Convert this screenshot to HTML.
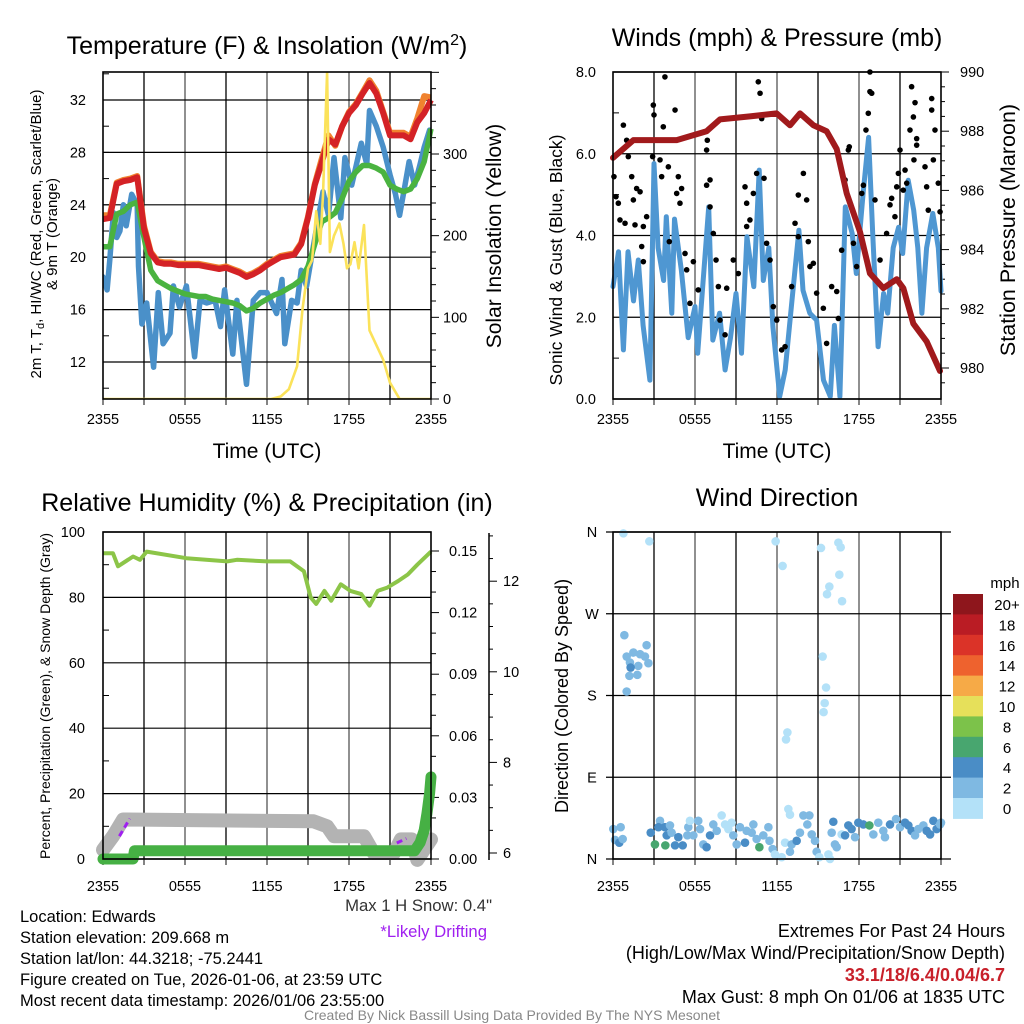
<!DOCTYPE html>
<html><head><meta charset="utf-8"><style>
html,body{margin:0;padding:0;background:#fff;}
svg{display:block;font-family:"Liberation Sans",sans-serif;}
</style></head><body>
<svg id="fig" width="1024" height="1024" viewBox="0 0 1024 1024" xmlns="http://www.w3.org/2000/svg">
<rect x="0" y="0" width="1024" height="1024" fill="#fff"/>
<g id="layer"></g>
<text x="267" y="54" font-size="25" text-anchor="middle">Temperature (F) &amp; Insolation (W/m<tspan dy="-9" font-size="16">2</tspan><tspan dy="9">)</tspan></text>
<text x="777" y="46" font-size="25" text-anchor="middle">Winds (mph) &amp; Pressure (mb)</text>
<text x="267" y="511" font-size="25" text-anchor="middle">Relative Humidity (%) &amp; Precipitation (in)</text>
<text x="777" y="506" font-size="25" text-anchor="middle">Wind Direction</text>
<text x="267" y="458" font-size="21" text-anchor="middle">Time (UTC)</text>
<text x="777" y="458" font-size="21" text-anchor="middle">Time (UTC)</text>
<text transform="translate(41,234) rotate(-90)" font-size="15" text-anchor="middle">2m T, T<tspan dy="3" font-size="11">d</tspan><tspan dy="-3">, HI/WC (Red, Green, Scarlet/Blue)</tspan></text>
<text transform="translate(57,234) rotate(-90)" font-size="15" text-anchor="middle">&amp; 9m T (Orange)</text>
<text transform="translate(501,236) rotate(-90)" font-size="21" text-anchor="middle">Solar Insolation (Yellow)</text>
<text transform="translate(562,260) rotate(-90)" font-size="17.5" text-anchor="middle">Sonic Wind &amp; Gust (Blue, Black)</text>
<text transform="translate(1015,230) rotate(-90)" font-size="21.5" text-anchor="middle">Station Pressure (Maroon)</text>
<text transform="translate(50,696) rotate(-90)" font-size="14" text-anchor="middle">Percent, Precipitation (Green), &amp; Snow Depth (Gray)</text>
<text transform="translate(568,696) rotate(-90)" font-size="18" text-anchor="middle">Direction (Colored By Speed)</text>
<text x="1005" y="588" font-size="15" text-anchor="middle">mph</text>
<text x="492" y="911" font-size="16.7" text-anchor="end" fill="#333">Max 1 H Snow: 0.4"</text>
<text x="487" y="937" font-size="16.7" text-anchor="end" fill="#a020f0">*Likely Drifting</text>
<g font-size="16.5">
<text x="20" y="922">Location: Edwards</text>
<text x="20" y="943">Station elevation: 209.668 m</text>
<text x="20" y="964">Station lat/lon: 44.3218; -75.2441</text>
<text x="20" y="985">Figure created on Tue, 2026-01-06, at 23:59 UTC</text>
<text x="20" y="1006">Most recent data timestamp: 2026/01/06 23:55:00</text>
</g>
<g font-size="18" text-anchor="end">
<text x="1005" y="937">Extremes For Past 24 Hours</text>
<text x="1005" y="959">(High/Low/Max Wind/Precipitation/Snow Depth)</text>
<text x="1005" y="981" fill="#c8202a" font-weight="bold">33.1/18/6.4/0.04/6.7</text>
<text x="1005" y="1003">Max Gust: 8 mph On 01/06 at 1835 UTC</text>
</g>
<text x="512" y="1020" font-size="14" text-anchor="middle" fill="#888">Created By Nick Bassill Using Data Provided By The NYS Mesonet</text>
</svg>
<script>
// ---------- DATA ----------
const xTickLabels = ["2355","0555","1155","1755","2355"];
const tempHours = [0,0.5,1,1.5,2,2.5,3,3.5,4,4.5,5,5.5,6,6.5,7,7.5,8,8.5,9,9.5,10,10.5,11,11.5,12,12.5,13,13.5,14,14.5,15,15.5,16,16.5,17,17.5,18,18.5,19,19.5,20,20.5,21,21.5,22,22.5,23,23.5,24];
const tempRed = [22.9,23,25.6,25.8,25.9,26.1,22.2,20.3,19.6,19.5,19.5,19.4,19.4,19.4,19.4,19.3,19.2,19.1,19.2,19.0,18.8,18.5,18.7,19.0,19.4,19.7,20,20.1,20.2,21,23,25.5,27.2,29,28.6,30,31,31.6,32.5,33.3,32.5,31,29.3,29.3,29.3,29,30.3,31,32];
const tempOrange = [23.2,23.2,25.7,25.9,26,26.2,22.4,20.4,19.7,19.6,19.6,19.5,19.5,19.5,19.5,19.4,19.3,19.2,19.3,19.1,18.9,18.6,18.8,19.1,19.5,19.8,20.1,20.2,20.3,21.1,23.1,25.6,27.5,29.3,28.5,30,31.1,31.7,32.6,33.5,32.7,31.1,29.5,29.5,29.5,29.2,30.6,32.3,32.2];
const dewGreen = [20.8,20.8,23.3,23.5,24,24.2,21.5,19,18.2,17.9,17.6,17.4,17.2,17.1,17,17,16.8,16.7,16.6,16.5,16.3,15.9,16.1,16.5,16.8,17.1,17.3,17.6,17.9,18.3,19.3,21,22.7,23,23.4,24.5,25.8,26.5,27,27,26.8,26.5,25.5,25.2,25,25.2,26,27.3,29.8];
const wcHours = [0,0.3,0.5,0.76,1.0,1.24,1.49,1.7,2.1,2.5,2.6,2.85,3.2,3.7,4.05,4.4,4.9,5.15,5.6,6.1,6.7,7.1,7.58,8.2,8.6,8.9,9.5,9.8,10.5,11.0,11.5,12.0,12.7,13.1,13.3,13.8,14.2,14.5,14.9,15.4,16.1,16.5,16.9,17.4,17.7,18.2,18.9,19.3,19.5,20.0,20.5,21.0,21.4,21.7,22.1,22.4,22.8,23.2,23.5,23.9];
const wcBlue = [18.5,17.5,19.8,23.4,21.5,22,24,22.4,24.8,24,19.3,14.9,16.5,11.6,17.3,13.4,14.2,17.8,16.2,17.8,12.4,16.7,16.5,16.7,14.7,17.5,12.6,16.7,10.3,16.7,17.3,17.3,15.7,18.3,13.4,16.7,16.5,19,17.8,20.9,25,23.2,27.6,23,27.6,25.5,28.7,27.1,31.2,30,28.4,26.3,24.8,23.2,25.5,27.3,25.5,27.1,28.4,29.7];
const solarHours = [0,12.3,13,13.6,14.2,14.6,15.0,15.3,15.6,15.9,16.1,16.4,16.6,16.9,17.3,17.6,17.85,18.1,18.4,18.7,19.1,19.5,20.5,21,21.7,24];
const solarWm2 = [0,0,3,12,40,110,160,170,230,190,250,400,180,200,215,190,160,165,192,160,213,84,48,20,0,0];
const yTempTicks = [12,16,20,24,28,32];
const ySolarTicks = [0,100,200,300];

const windHours = [0,0.4,0.76,1.1,1.5,1.85,2.2,2.7,3.0,3.3,3.7,3.9,4.3,4.5,5.0,5.5,6.0,6.2,7.0,7.3,7.8,8.2,8.6,9.0,9.4,9.8,10.3,10.7,11.0,11.4,11.7,12.2,12.6,13.1,13.6,13.9,14.4,14.9,15.4,15.9,16.2,16.6,17.0,17.5,17.8,18.3,18.7,19.0,19.4,19.8,20.1,20.5,20.9,21.2,21.6,22.0,22.3,22.6,22.95,23.4,23.8,24];
const windMph = [2.75,3.6,1.2,3.6,2.4,3.4,1.8,0.46,5.76,3.7,2.9,4.46,2.1,4.4,3.16,1.5,2.26,1.12,4.7,1.44,2.1,0.71,1.5,2.58,1.12,3.97,2.75,5.6,2.9,3.7,1.77,0.06,0.71,2.42,4.13,2.66,2.1,1.93,0.46,0.06,1.8,0.06,4.7,4.05,3.07,5.03,6.4,4.05,1.28,2.58,2.1,3.7,4.2,3.56,5.35,4.62,3.7,2.1,3.7,4.54,3.7,2.64];
const gustHours = [0.07,0.22,0.39,0.51,0.88,0.76,1.0,1.12,1.37,1.49,1.73,1.98,1.61,2.22,2.46,2.1,2.22,2.95,3.0,2.9,3.44,3.56,3.68,3.8,4.05,4.12,4.54,4.66,4.78,5.02,4.9,5.27,5.39,5.63,5.88,6.24,6.85,6.9,7.1,6.85,7.1,7.34,7.54,7.71,7.83,8.2,8.32,8.8,9.17,9.66,9.78,9.78,10.02,10.27,10.51,10.63,10.76,10.88,11.05,11.24,11.49,11.73,11.98,12.34,12.59,13.07,13.32,13.56,13.56,13.93,14.17,14.29,14.41,14.66,14.9,15.39,15.63,16.0,16.37,16.49,16.73,16.98,17.22,17.29,17.59,17.83,18.2,18.32,18.51,18.68,18.8,18.8,18.93,19.17,19.54,20.02,20.27,20.39,20.63,20.76,20.88,21.0,21.24,21.37,21.49,21.73,21.85,21.98,22.1,22.02,22.22,22.22,22.83,22.95,23.07,23.32,23.32,23.44,23.56,23.8,23.93];
const gustMph = [5.44,4.95,4.79,4.38,4.30,6.70,6.33,5.93,5.44,4.87,5.15,5.07,4.26,4.22,4.46,3.73,3.36,7.19,6.95,5.93,5.85,5.44,6.66,7.88,5.68,3.85,7.07,5.03,5.44,5.15,4.79,3.56,3.16,2.34,3.36,2.67,6.09,6.33,5.36,5.23,4.7,4.05,3.4,2.75,1.93,1.57,2.71,3.4,3.07,5.19,4.79,4.22,4.38,5.03,5.52,7.76,7.48,6.86,5.4,3.81,3.4,2.26,1.93,1.2,1.28,2.75,4.3,4.99,3.97,5.52,4.87,3.85,3.24,3.32,2.59,2.22,1.36,2.75,2.63,1.97,3.64,5.36,6.09,6.17,3.81,3.24,5.03,5.23,6.58,6.99,7.52,8.0,7.48,4.87,3.4,4.05,4.75,4.91,4.46,5.19,5.52,6.09,5.11,5.6,5.28,6.58,7.64,6.9,7.25,5.85,6.37,6.21,5.68,5.19,4.62,7.35,7.07,5.85,6.58,5.28,4.58];
const presHours = [0,1.49,4.66,6.85,7.83,10.02,11.97,12.95,13.68,14.66,15.63,16.37,17.1,18.07,18.8,19.78,20.76,21.24,21.97,22.95,23.93];
const presMb = [987.1,987.7,987.7,988.0,988.4,988.5,988.6,988.2,988.6,988.2,988.0,987.4,985.9,984.6,983.2,982.7,983.0,982.7,981.5,980.9,979.9];
const yWindTicks = ["0.0","2.0","4.0","6.0","8.0"];
const yPresTicks = [980,982,984,986,988,990];

const rhHours = [0,0.73,1.1,2.2,2.7,3.2,6.1,9.1,9.8,12,13.7,14.7,15.2,15.6,16.2,16.7,17.4,18.1,18.9,19.5,20.1,20.8,21.6,22.3,23,24];
const rhPct = [93.5,93.5,89.5,92.5,91.5,94,92,91,91.5,91,91,88,80,78,82,79,84,82,81,77.5,82,83,85,87,90,94];
const precipHours = [0,2.2,2.3,22.8,23.2,23.5,23.7,23.9,24];
const precipIn = [0,0,0.004,0.004,0.008,0.014,0.022,0.032,0.04];
const snowHours = [0,0.73,1.47,15.4,16.4,16.9,19.1,19.8,21.3,21.8,22.6,23,24];
const snowIn = [6.07,6.37,6.74,6.7,6.59,6.37,6.37,6.0,6.0,6.3,6.3,5.85,6.3];
const driftHours = [1.2,1.96,21.5,22.2];
const driftIn = [6.37,6.76,6.22,6.32];
const yRhTicks = [0,20,40,60,80,100];
const yPrecipTicks = ["0.00","0.03","0.06","0.09","0.12","0.15"];
const ySnowTicks = [6,8,10,12];

const dirHours = [0.76,2.66,11.9,12.41,15.22,16.49,16.66,16.56,15.83,15.66,16.76,0.83,2.46,1.0,1.49,1.98,2.34,1.24,1.85,2.59,1.29,1.2,1.78,1.0,15.34,15.59,15.49,15.41,12.76,12.66,12.83,12.95,
0.02,0.56,0.15,0.46,0.71,2.76,3.07,3.44,3.32,3.8,3.83,3.93,4.17,4.29,4.54,4.78,5.1,5.44,5.51,5.63,5.88,6.24,6.37,6.61,6.85,7.1,7.34,7.59,7.95,8.2,8.44,8.68,8.8,9.05,9.29,9.66,9.78,10.15,10.27,10.51,10.71,11.0,11.37,11.45,11.68,11.85,12.34,12.59,12.95,13.07,13.44,13.68,13.93,14.22,14.37,14.54,14.78,14.9,15.1,15.76,15.88,16.0,16.12,16.24,16.37,16.73,16.98,17.22,17.46,17.71,17.95,18.32,18.76,19.05,19.41,19.78,19.9,20.27,20.71,21.0,21.37,21.61,21.85,22.1,22.34,22.71,22.95,23.2,23.44,23.68,23.93,24];
const dirDeg = [358.5,349.7,349.7,322.6,342.4,348.3,343.1,313,299.9,291.5,283.8,246.4,235.4,222.9,227.3,225.5,222.9,216.3,212.6,215.6,210.8,201.6,202.7,184.4,222.9,188.8,171.6,161.7,139.3,131.6,55,48.8,
33,35,21,18,22,29,16,42,35,35,15,26,37,29,15,24,15,26,35,42,26,42,33,16,13,26,38,31,48,38,33,40,26,16,35,18,31,29,38,22,13,26,35,20,11,5,2,18,8,16,20,29,48,38,48,27,20,8,2,5,0,29,41,16,13,27,26,37,33,24,40,38,37,27,40,31,24,38,44,35,40,37,31,26,33,37,31,27,42,33,38,40];
const dirSpeed = [0,0,0,0,0,0,0,0,0,0,0,2,2,2,2,2,2,2,2,2,4,2,2,2,0,0,0,0,0,0,0,0,
2,2,2,4,2,4,6,2,4,4,6,4,2,2,4,4,4,2,2,0,2,2,2,2,4,4,2,2,0,0,0,0,2,2,2,4,2,2,2,2,6,2,2,2,2,0,0,0,2,2,4,2,2,2,2,2,2,2,0,0,0,2,4,2,2,0,4,4,4,2,4,4,6,2,2,2,2,4,2,2,4,4,4,2,2,2,4,4,4,4,2,2];
const dirTickLabels = ["N","E","S","W","N"];
const speedBins = ["0","2","4","6","8","10","12","14","16","18","20+"];
const speedColors = ["#b3e1f8","#7fb9e2","#4a8dc6","#48a66f","#7cc24a","#e6e05a","#f6aa47","#ee622e","#db3328","#ba1c24","#8e161c"];

// ---------- HELPERS ----------
const NS = "http://www.w3.org/2000/svg";
const layer = document.getElementById("layer");
function mk(tag, attrs, parent){
  const e = document.createElementNS(NS, tag);
  for (const k in attrs) e.setAttribute(k, attrs[k]);
  (parent||layer).appendChild(e);
  return e;
}
function txt(x,y,s,size,anchor,parent,fill){
  const t = mk("text",{x:x,y:y,"font-size":size,"text-anchor":anchor,fill:fill||"#000"},parent);
  t.textContent = s; return t;
}
function pathFrom(hs, vs, fx, fy){
  let d = "";
  for (let i=0;i<hs.length;i++) d += (i?"L":"M") + fx(hs[i]).toFixed(1) + "," + fy(vs[i]).toFixed(1);
  return d;
}
function panelFrame(x0,y0,x1,y1,name){
  const g = mk("g",{});
  
  
  for (let k=1;k<8;k++){
    const x = x0 + k*(x1-x0)/8;
    mk("line",{x1:x,y1:y0,x2:x,y2:y1,stroke:k%2?"#000":"#555","stroke-width":1.3},g);
  }
  for (let k=0;k<=8;k++){
    const x = x0 + k*(x1-x0)/8;
    mk("line",{x1:x,y1:y1,x2:x,y2:y1+6,stroke:"#333","stroke-width":1.2},g);
  }
  return g;
}
function border(x0,y0,x1,y1){
  const r = mk("rect",{x:x0,y:y0,width:x1-x0,height:y1-y0,fill:"none",stroke:"#000","stroke-width":1.6});
  
  
}
function xLabels(x0,x1,y,name){
  const g = mk("g",{});
  
  
  for (let i=0;i<xTickLabels.length;i++) txt(x0 + i*(x1-x0)/4, y, xTickLabels[i], 14.5, "middle", g);
}

// ---------- PANEL 1: temperature ----------
const p1x = h => 103 + h*328/24;
const p1y = t => 100 + (32-t)*13.1;
const p1s = w => 399 - w*0.8167;
const g1 = panelFrame(103,72,431,399,"temperature-panel");
for (const t of yTempTicks){ mk("line",{x1:103,y1:p1y(t),x2:431,y2:p1y(t),stroke:"#000","stroke-width":1.2},g1); }
for (let t=10;t<=34;t+=2){ const y=p1y(t); if(y>72&&y<399) mk("line",{x1:103,y1:y,x2:109,y2:y,stroke:"#000"},g1); }
for (let w=0;w<=400;w+=20){ mk("line",{x1:431,y1:p1s(w),x2:w%100?436:439,y2:p1s(w),stroke:"#000"},g1); }
const l1 = mk("g",{});  
for (const t of yTempTicks) txt(86, p1y(t)+5, String(t), 14.5, "end", l1);
const r1 = mk("g",{});  
for (const w of ySolarTicks) txt(443, p1s(w)+5, String(w), 14.5, "start", r1);
xLabels(103,431,424,"temp-x-tick-labels");
const clip1 = mk("clipPath",{id:"c1"}); mk("rect",{x:103,y:72,width:328,height:327},clip1);
const wc = mk("path",{d:pathFrom(wcHours,wcBlue,p1x,p1y),fill:"none",stroke:"#4a90c9","stroke-width":5.5,"stroke-linejoin":"round","stroke-linecap":"round","clip-path":"url(#c1)"});
 
const dg = mk("path",{d:pathFrom(tempHours,dewGreen,p1x,p1y),fill:"none",stroke:"#4ab340","stroke-width":5.5,"stroke-linejoin":"round"});
 
const ol = mk("path",{d:pathFrom(tempHours,tempOrange,p1x,p1y),fill:"none",stroke:"#f0822e","stroke-width":6,"stroke-linejoin":"round"});
 
const rl = mk("path",{d:pathFrom(tempHours,tempRed,p1x,p1y),fill:"none",stroke:"#d42226","stroke-width":6,"stroke-linejoin":"round"});
 
const sl = mk("path",{d:pathFrom(solarHours,solarWm2,p1x,p1s),fill:"none",stroke:"#fbe25a","stroke-width":2.6,"stroke-linejoin":"round","clip-path":"url(#c1)"});
 
border(103,72,431,399);

// ---------- PANEL 2: winds ----------
const p2x = h => 613 + h*328/24;
const p2y = m => 399 - m*40.875;
const p2p = p => 72 + (990-p)*29.6;
const g2 = panelFrame(613,72,941,399,"winds-panel");
for (let i=0;i<yWindTicks.length;i++){ const y=p2y(i*2); mk("line",{x1:613,y1:y,x2:941,y2:y,stroke:"#000","stroke-width":1.2},g2); }
for (let m=1;m<8;m+=2){ mk("line",{x1:613,y1:p2y(m),x2:619,y2:p2y(m),stroke:"#000"},g2); }
for (let p=979.5;p<=990;p+=0.5){ const y=p2p(p); if(y<=399) mk("line",{x1:941,y1:y,x2:(p%2===0)?949:945,y2:y,stroke:"#000"},g2); }
const l2 = mk("g",{});  
for (let i=0;i<yWindTicks.length;i++) txt(596, p2y(i*2)+5, yWindTicks[i], 14.5, "end", l2);
const r2 = mk("g",{});  
for (const p of yPresTicks) txt(960, p2p(p)+5, String(p), 14.5, "start", r2);
xLabels(613,941,424,"wind-x-tick-labels");
const wl = mk("path",{d:pathFrom(windHours,windMph,p2x,p2y),fill:"none",stroke:"#4f97d2","stroke-width":5,"stroke-linejoin":"round","stroke-linecap":"round"});
 
const gg = mk("g",{});  
for (let i=0;i<gustHours.length;i++){
  const c = mk("circle",{cx:p2x(gustHours[i]),cy:p2y(gustMph[i]),r:2.8,fill:"#000"},gg);
  
  
}
const pl = mk("path",{d:pathFrom(presHours,presMb,p2x,p2p),fill:"none",stroke:"#a11a1c","stroke-width":6,"stroke-linejoin":"round","stroke-linecap":"round"});
 
border(613,72,941,399);

// ---------- PANEL 3: humidity ----------
const p3y = v => 859 - v*3.27;
const p3p = v => 859 - v*308/0.15;
const p3s = s => 853 - (s-6)*45.3;
const g3 = panelFrame(103,532,431,859,"humidity-panel");
for (const v of yRhTicks){ mk("line",{x1:103,y1:p3y(v),x2:431,y2:p3y(v),stroke:"#000","stroke-width":1.2},g3); }
for (let v=10;v<100;v+=20){ mk("line",{x1:103,y1:p3y(v),x2:109,y2:p3y(v),stroke:"#000"},g3); }
for (let k=0;k<=15;k++){ const y=p3p(k*0.01); mk("line",{x1:431,y1:y,x2:k%3?436:439,y2:y,stroke:"#000"},g3); }
mk("line",{x1:489,y1:533,x2:489,y2:860,stroke:"#000","stroke-width":1.5},g3);
for (let s=5.9;s<=13.1;s+=0.5){ const sv=Math.round(s*2)/2; const y=p3s(sv); if(y>533&&y<860) mk("line",{x1:489,y1:y,x2:sv%2===0?497:493,y2:y,stroke:"#000"},g3); }
const l3 = mk("g",{});  
for (const v of yRhTicks) txt(85, p3y(v)+5, String(v), 14.5, "end", l3);
const r3 = mk("g",{});  
for (let i=0;i<yPrecipTicks.length;i++) txt(449, p3p(i*0.03)+5, yPrecipTicks[i], 14.5, "start", r3);
const s3 = mk("g",{});  
for (const s of ySnowTicks) txt(503, p3s(s)+5, String(s), 14.5, "start", s3);
xLabels(103,431,891,"humidity-x-tick-labels");
const sn = mk("path",{d:pathFrom(snowHours,snowIn,p1x,p3s),fill:"none",stroke:"#b3b3b3","stroke-width":14,"stroke-linejoin":"round","stroke-linecap":"round"});
 
for (let i=0;i<driftHours.length;i+=2){
  const dl = mk("path",{d:pathFrom(driftHours.slice(i,i+2),driftIn.slice(i,i+2),p1x,p3s),fill:"none",stroke:"#a020f0","stroke-width":3,"stroke-dasharray":"6,4"});
   
}
const pr = mk("path",{d:pathFrom(precipHours,precipIn,p1x,p3p),fill:"none",stroke:"#46b044","stroke-width":11,"stroke-linejoin":"round","stroke-linecap":"round"});
 
const rh = mk("path",{d:pathFrom(rhHours,rhPct,p1x,p3y),fill:"none",stroke:"#8cc548","stroke-width":4,"stroke-linejoin":"round"});
 
border(103,532,431,859);

// ---------- PANEL 4: wind direction ----------
const p4y = d => 859 - d*327/360;
const g4 = panelFrame(613,532,941,859,"direction-panel");
for (let i=0;i<5;i++){ mk("line",{x1:606,y1:p4y(i*90),x2:951,y2:p4y(i*90),stroke:"#000","stroke-width":1.2},g4); }
const l4 = mk("g",{});  
for (let i=0;i<dirTickLabels.length;i++) txt(592, p4y(i*90)+5, dirTickLabels[i], 14.5, "middle", l4);
xLabels(613,941,891,"direction-x-tick-labels");
const dp = mk("g",{});  
for (let i=0;i<dirHours.length;i++){
  const c = mk("circle",{cx:p2x(dirHours[i]),cy:p4y(dirDeg[i]),r:4.3,fill:speedColors[dirSpeed[i]/2]},dp);
  
  
}
border(613,532,941,859);
const cb = mk("g",{});  
for (let i=0;i<speedBins.length;i++){
  const k = speedBins.length-1-i;
  const y = 594 + i*20.4;
  const r = mk("rect",{x:953,y:y,width:30,height:20.9,fill:speedColors[k]},cb);
  
  
  txt(1007, y+16, speedBins[k], 15, "middle", cb);
}
</script>
</body></html>
